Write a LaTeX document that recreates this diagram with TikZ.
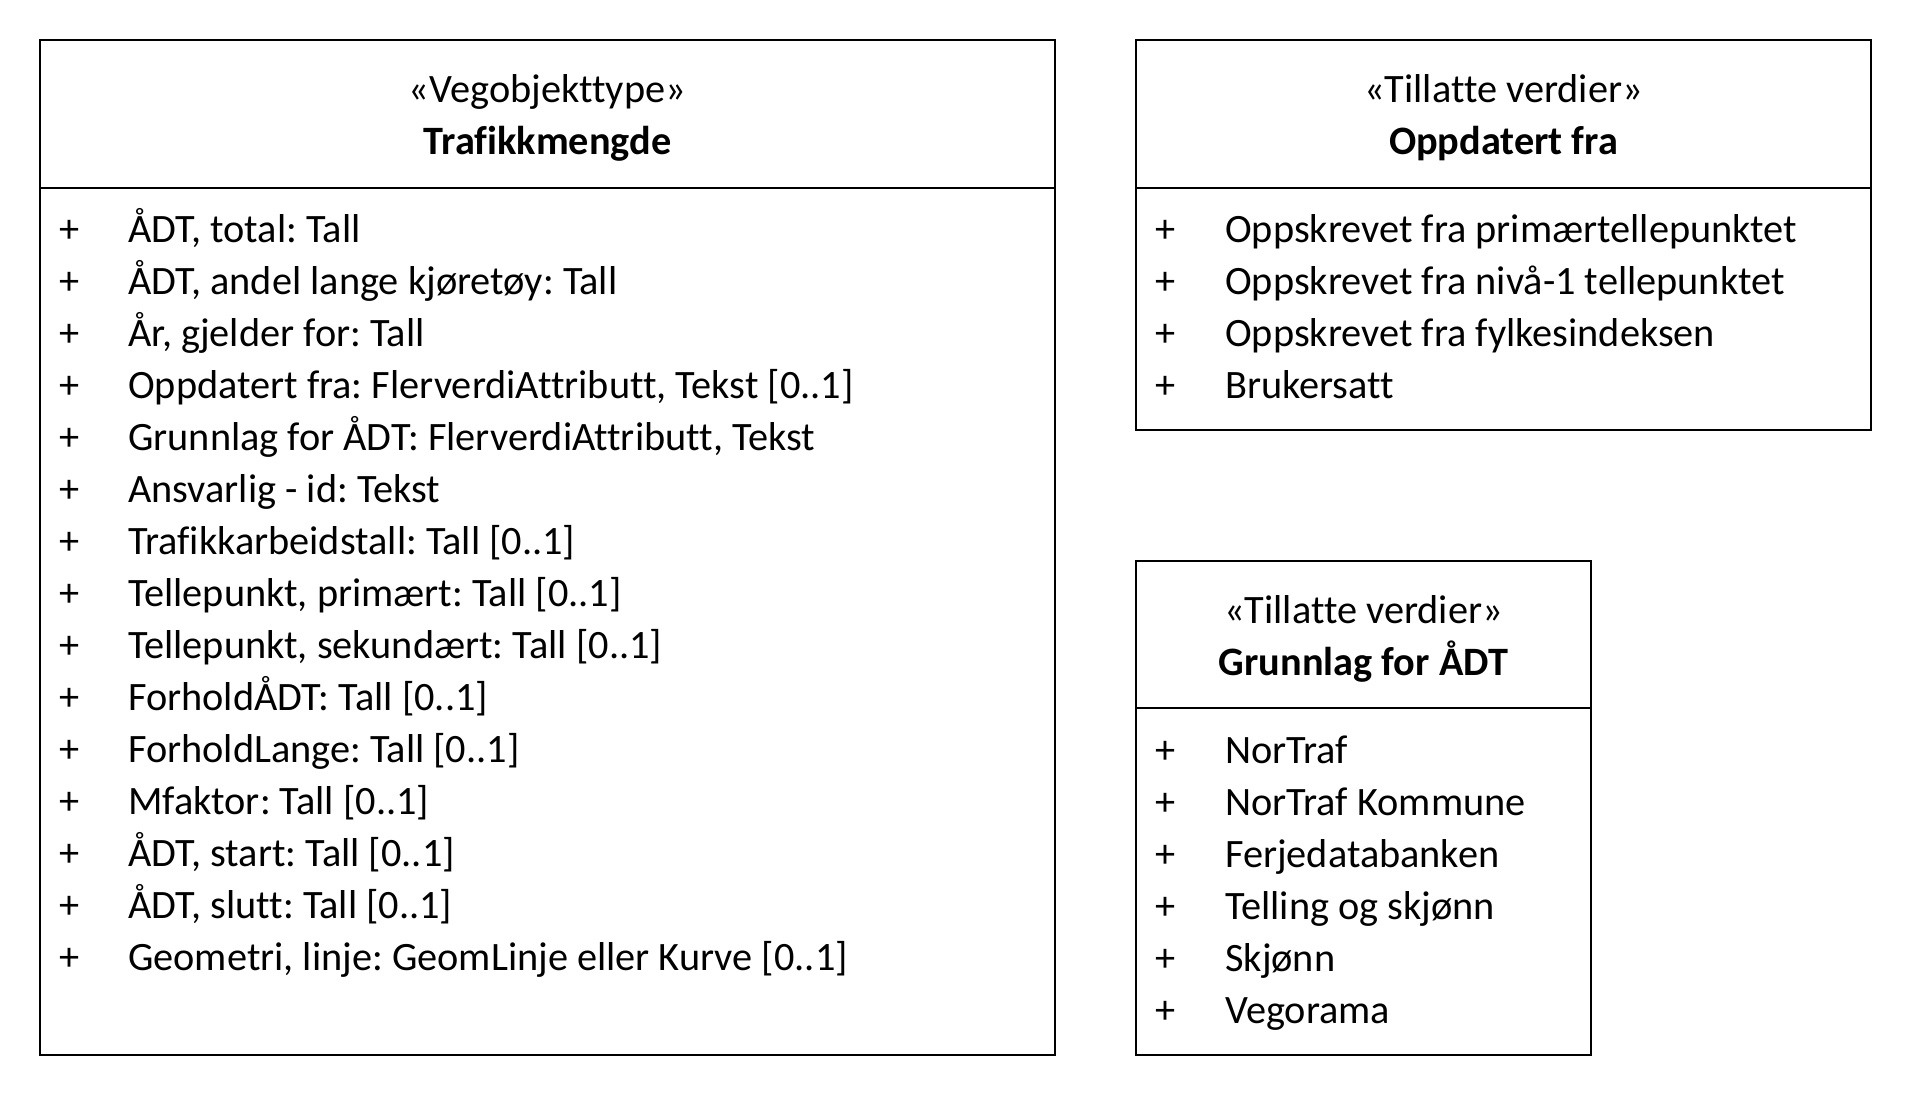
\documentclass[tikz,border=0pt]{standalone}
\usepackage{fontspec}
\setmainfont{Carlito}[Ligatures={NoCommon}]
\newcommand\umlfs{\fontsize{40.3}{52}\selectfont\frenchspacing}
\begin{document}
\frenchspacing
\begin{tikzpicture}[x=1pt,y=-1pt,
  box/.style={draw=black,line width=1.3pt},
  sep/.style={draw=black,line width=1.1pt},
  lbl/.style={anchor=base west,inner sep=0pt,font=\umlfs},
  pls/.style={anchor=base,inner sep=0pt,font=\umlfs},
  hdr/.style={anchor=base,inner sep=0pt,font=\umlfs},
  hdrb/.style={anchor=base,inner sep=0pt,font=\umlfs\bfseries}]
\useasboundingbox (0,0) rectangle (1912,1096);
\fill[white] (0,0) rectangle (1912,1096);
% Box 1
\draw[box] (40,40) rectangle (1055,1055);
\draw[sep] (40,188) -- (1055,188);
\node[hdr] (s1) at (547.5,102) {«Vegobjekttype»};
\node[hdrb] (n1) at (547.5,154) {Trafikkmengde};
\foreach \t [count=\i] in {{ÅDT, total: Tall},{ÅDT, andel lange kjøretøy: Tall},{År, gjelder for: Tall},{Oppdatert fra: FlerverdiAttributt, Tekst [0..1]},{Grunnlag for ÅDT: FlerverdiAttributt, Tekst},{Ansvarlig - id: Tekst},{Trafikkarbeidstall: Tall [0..1]},{Tellepunkt, primært: Tall [0..1]},{Tellepunkt, sekundært: Tall [0..1]},{ForholdÅDT: Tall [0..1]},{ForholdLange: Tall [0..1]},{Mfaktor: Tall [0..1]},{ÅDT, start: Tall [0..1]},{ÅDT, slutt: Tall [0..1]},{Geometri, linje: GeomLinje eller Kurve [0..1]}}{
  \node[pls] (p1\i) at (69.5,{242+52*(\i-1)}) {+};
  \node[lbl] (a1\i) at (128,{242+52*(\i-1)}) {\t};
}
% Box 2
\draw[box] (1136,40) rectangle (1871,430);
\draw[sep] (1136,188) -- (1871,188);
\node[hdr] (s2) at (1503.5,102) {«Tillatte verdier»};
\node[hdrb] (n2) at (1503.5,154) {Oppdatert fra};
\foreach \t [count=\i] in {{Oppskrevet fra primærtellepunktet},{Oppskrevet fra nivå-1 tellepunktet},{Oppskrevet fra fylkesindeksen},{Brukersatt}}{
  \node[pls] (p2\i) at (1166,{242+52*(\i-1)}) {+};
  \node[lbl] (a2\i) at (1225,{242+52*(\i-1)}) {\t};
}
% Box 3
\draw[box] (1136,561) rectangle (1591,1055);
\draw[sep] (1136,708) -- (1591,708);
\node[hdr] (s3) at (1363.5,623) {«Tillatte verdier»};
\node[hdrb] (n3) at (1363.5,675) {Grunnlag for ÅDT};
\foreach \t [count=\i] in {{NorTraf},{NorTraf Kommune},{Ferjedatabanken},{Telling og skjønn},{Skjønn},{Vegorama}}{
  \node[pls] (p3\i) at (1166,{763+52*(\i-1)}) {+};
  \node[lbl] (a3\i) at (1225,{763+52*(\i-1)}) {\t};
}
\end{tikzpicture}
\end{document}
